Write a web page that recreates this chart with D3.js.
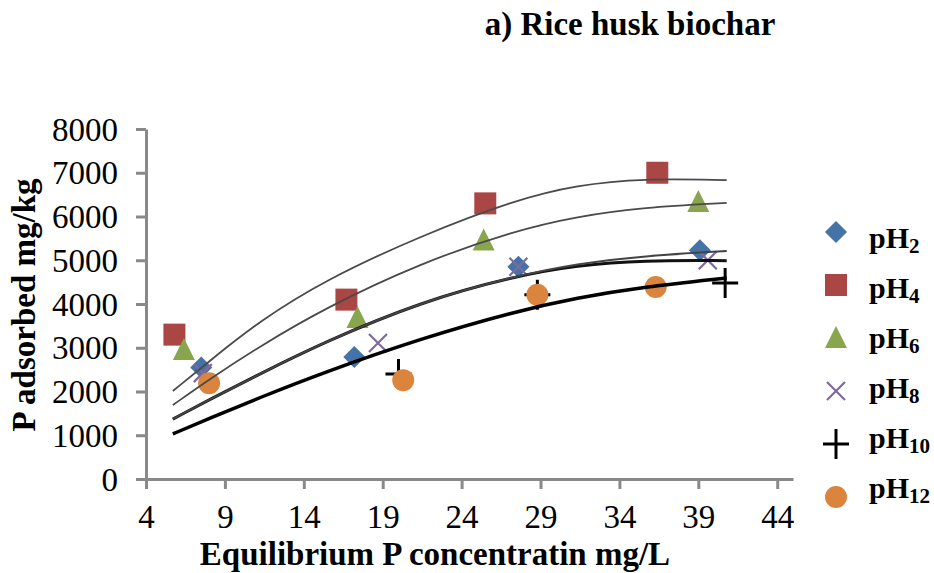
<!DOCTYPE html>
<html>
<head>
<meta charset="utf-8">
<script src="https://cdn.jsdelivr.net/npm/d3@7"></script>
<style>
  body { margin: 0; background: #fff; }
  svg { display: block; }
</style>
</head>
<body>
<div id="chart"></div>
<script>
// measured points, one array per pH series
var ph2X = [7.5, 17.2, 27.6, 39.1];
var ph2Y = [2550, 2790, 4850, 5230];
var ph4X = [5.8, 16.7, 25.5, 36.4];
var ph4Y = [3300, 4100, 6300, 7000];
var ph6X = [6.4, 17.4, 25.4, 39.0];
var ph6Y = [2950, 3680, 5450, 6330];
var ph8X = [7.6, 18.7, 27.6, 39.6];
var ph8Y = [2420, 3110, 4850, 5000];
var ph10X = [20.0, 28.8, 40.7];
var ph10Y = [2400, 4210, 4480];
var ph12X = [8.0, 20.3, 28.8, 36.3];
var ph12Y = [2190, 2260, 4210, 4390];

// fitted curves
var curveX = [5.7, 8.1, 11.2, 15.3, 21.4, 27.4, 31.3, 35.5, 40.8];
var fitPh4 = [2010, 2720, 3610, 4540, 5560, 6380, 6720, 6870, 6830];
var fitPh6 = [1690, 2300, 3030, 3900, 4940, 5680, 6000, 6210, 6310];
var fitPh2 = [1370, 1830, 2400, 3130, 4050, 4640, 4920, 5100, 5210];
var fitPh8 = [1370, 1830, 2400, 3130, 4050, 4640, 4880, 5000, 4990];
var fitPh12 = [1030, 1400, 1860, 2440, 3210, 3830, 4140, 4390, 4595];

var xTicks = [4, 9, 14, 19, 24, 29, 34, 39, 44];
var yTicks = [0, 1000, 2000, 3000, 4000, 5000, 6000, 7000, 8000];
var seriesNames = ["2", "4", "6", "8", "10", "12"];

var width = 934, height = 573;
var svg = d3.select("#chart").append("svg").attr("width", width).attr("height", height);

var x = d3.scaleLinear().domain([4, 45]).range([146, 793]);
var y = d3.scaleLinear().domain([0, 8000]).range([479, 129]);

var serif = "'Liberation Serif', 'Times New Roman', serif";
var axisGrey = "#898989";

// title
svg.append("text")
    .attr("x", 630).attr("y", 35)
    .attr("text-anchor", "middle")
    .style("font-family", serif).style("font-weight", "bold").style("font-size", "33px")
    .text("a) Rice husk biochar");

// axes
var xAxis = svg.append("g")
    .attr("transform", "translate(0," + y(0) + ")")
    .call(d3.axisBottom(x).tickValues(xTicks).tickSize(10).tickSizeOuter(0).tickPadding(16));
var yAxis = svg.append("g")
    .attr("transform", "translate(" + x(4) + ",0)")
    .call(d3.axisLeft(y).tickValues(yTicks).tickFormat(d3.format("d")).tickSize(10).tickSizeOuter(0).tickPadding(18));

[xAxis, yAxis].forEach(function (g) {
    g.select(".domain").attr("stroke", axisGrey).attr("stroke-width", 3);
    g.selectAll(".tick line").attr("stroke", axisGrey).attr("stroke-width", 3);
    g.selectAll(".tick text")
        .attr("fill", "#000")
        .style("font-family", serif).style("font-size", "33px");
});
yAxis.selectAll(".tick text").attr("dy", "0.34em");
xAxis.selectAll(".tick text").attr("dy", "0.7em");

// axis titles
svg.append("text")
    .attr("x", 435).attr("y", 565)
    .attr("text-anchor", "middle")
    .style("font-family", serif).style("font-weight", "bold").style("font-size", "33px")
    .text("Equilibrium P concentratin mg/L");

svg.append("text")
    .attr("transform", "translate(35,305) rotate(-90)")
    .attr("text-anchor", "middle")
    .style("font-family", serif).style("font-weight", "bold").style("font-size", "33px")
    .text("P adsorbed mg/kg");

// markers
function drawMarker(g, type, cx, cy) {
    if (type == "diamond") {
        g.append("path")
            .attr("d", "M" + cx + "," + (cy - 11) + "L" + (cx + 11) + "," + cy + "L" + cx + "," + (cy + 11) + "L" + (cx - 11) + "," + cy + "Z")
            .attr("fill", "#4572A7");
    } else if (type == "square") {
        g.append("rect").attr("x", cx - 11).attr("y", cy - 11).attr("width", 22).attr("height", 22)
            .attr("fill", "#AA4643");
    } else if (type == "triangle") {
        g.append("path")
            .attr("d", "M" + cx + "," + (cy - 12) + "L" + (cx + 11) + "," + (cy + 10) + "L" + (cx - 11) + "," + (cy + 10) + "Z")
            .attr("fill", "#89A54E");
    } else if (type == "x") {
        g.append("path")
            .attr("d", "M" + (cx - 9) + "," + (cy - 9) + "L" + (cx + 9) + "," + (cy + 9) + "M" + (cx + 9) + "," + (cy - 9) + "L" + (cx - 9) + "," + (cy + 9))
            .attr("stroke", "#80699B").attr("stroke-width", 2.2).attr("fill", "none");
    } else if (type == "plus") {
        g.append("path")
            .attr("d", "M" + (cx - 13) + "," + cy + "L" + (cx + 13) + "," + cy + "M" + cx + "," + (cy - 15) + "L" + cx + "," + (cy + 15))
            .attr("stroke", "#000").attr("stroke-width", 3).attr("fill", "none");
    } else {
        g.append("circle").attr("cx", cx).attr("cy", cy).attr("r", 11).attr("fill", "#DB843D");
    }
}

var series = [
    { xs: ph2X, ys: ph2Y, type: "diamond" },
    { xs: ph4X, ys: ph4Y, type: "square" },
    { xs: ph6X, ys: ph6Y, type: "triangle" },
    { xs: ph8X, ys: ph8Y, type: "x" },
    { xs: ph10X, ys: ph10Y, type: "plus" },
    { xs: ph12X, ys: ph12Y, type: "circle" }
];

var pointsG = svg.append("g");
series.forEach(function (s) {
    s.xs.forEach(function (v, i) {
        drawMarker(pointsG, s.type, x(v), y(s.ys[i]));
    });
});

// fitted curves on top of the points
var fits = [
    { ys: fitPh4, color: "#4a4a4a", w: 1.8 },
    { ys: fitPh6, color: "#4a4a4a", w: 1.8 },
    { ys: fitPh8, color: "#111", w: 3 },
    { ys: fitPh2, color: "#444", w: 2 },
    { ys: fitPh12, color: "#000", w: 3.5 }
];
var line = d3.line()
    .x(function (d) { return x(d[0]); })
    .y(function (d) { return y(d[1]); })
    .curve(d3.curveBasis);

svg.append("g").selectAll("path")
    .data(fits)
    .join("path")
    .attr("d", function (f) { return line(curveX.map(function (v, i) { return [v, f.ys[i]]; })); })
    .attr("fill", "none")
    .attr("stroke", function (f) { return f.color; })
    .attr("stroke-width", function (f) { return f.w; });

// legend
var legend = svg.append("g");
series.forEach(function (s, i) {
    drawMarker(legend, s.type, 836, 232 + i * 53);
    var t = legend.append("text")
        .attr("x", 869).attr("y", 248 + i * 50)
        .style("font-family", serif).style("font-weight", "bold").style("font-size", "30px");
    t.append("tspan").text("pH");
    t.append("tspan").attr("dy", 5).style("font-size", "21px").text(seriesNames[i]);
});
</script>
</body>
</html>
